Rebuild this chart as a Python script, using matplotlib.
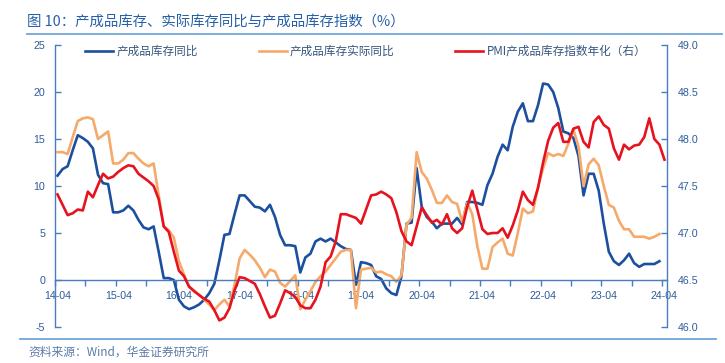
import matplotlib
matplotlib.use('Agg')
import matplotlib.pyplot as plt
import numpy as np
from matplotlib.lines import Line2D
from matplotlib.ticker import FixedLocator, NullFormatter, FixedFormatter

plt.rcParams['font.family'] = ['Liberation Sans', 'Noto Sans CJK SC', 'DejaVu Sans']

# ---------------- data ----------------
title = '图 10：产成品库存、实际库存同比与产成品库存指数（%）'
source = '资料来源：Wind，华金证券研究所'
series_names = ['产成品库存同比', '产成品库存实际同比', 'PMI产成品库存指数年化（右）']
tick_labels = ['14-04', '15-04', '16-04', '17-04', '18-04', '19-04',
               '20-04', '21-04', '22-04', '23-04', '24-04']

# monthly, 2014-04 .. 2024-03
inventory_yoy = [
    11.1, 11.8, 12.1, 13.8, 15.4, 15.1, 14.7, 14.0, 11.2, 10.3,
    10.2, 7.2, 7.2, 7.4, 7.9, 7.4, 6.4, 5.6, 5.4, 5.7,
    3.0, 0.2, 0.2, 0.0, -2.1, -2.8, -3.1, -2.9, -2.6, -2.1,
    -1.4, -0.4, 2.1, 4.8, 4.9, 7.0, 9.0, 9.0, 8.4, 7.8,
    7.7, 7.3, 8.0, 6.7, 4.8, 3.7, 3.7, 3.6, 0.8, 2.4,
    2.8, 4.1, 4.4, 4.1, 4.4, 4.0, 3.6, 3.3, 3.2, -0.5,
    1.9, 1.8, 1.6, 0.4, 0.1, -0.9, -1.4, -1.6, 0.4, 6.0,
    6.1, 11.9, 7.8, 6.7, 6.2, 5.5, 6.0, 6.0, 6.0, 6.6,
    5.9, 8.3, 8.3, 8.2, 8.0, 10.1, 11.3, 13.1, 14.4, 13.8,
    16.3, 17.9, 18.8, 16.9, 16.9, 18.6, 20.9, 20.8, 20.0, 18.3,
    15.8, 15.6, 15.1, 13.2, 9.0, 11.3, 11.3, 9.5, 6.0, 3.0,
    2.0, 1.6, 2.1, 2.8, 1.8, 1.4, 1.7, 1.7, 1.7, 2.0,
]

real_inventory_yoy = [
    13.6, 13.6, 13.4, 15.2, 16.9, 17.2, 17.3, 17.1, 15.0, 15.4,
    15.8, 12.4, 12.4, 12.8, 13.5, 13.5, 12.9, 12.4, 12.1, 12.4,
    9.0, 5.7, 5.3, 4.5, 2.0, 0.6, -0.7, -1.1, -1.6, -2.1,
    -2.6, -3.2, -2.6, -2.1, -2.8, -0.5, 2.3, 3.2, 2.7, 2.1,
    1.3, 0.3, 1.1, 0.9, -0.3, -0.7, -0.1, 0.5, -3.1, -2.1,
    -1.2, -0.2, 0.4, 0.9, 1.6, 2.3, 3.0, 3.2, 3.2, -3.0,
    1.1, 1.2, 1.3, 0.8, 0.9, 0.6, 0.4, -0.2, 0.5, 5.9,
    6.6, 13.6, 11.5, 10.8, 9.6, 8.2, 8.2, 9.0, 8.3, 8.1,
    6.2, 8.2, 7.0, 3.6, 1.2, 1.2, 3.5, 4.0, 4.4, 2.8,
    2.6, 5.0, 7.6, 7.1, 7.3, 9.9, 11.9, 13.5, 13.2, 13.4,
    13.2, 14.5, 16.0, 14.2, 10.0, 12.3, 12.9, 12.2, 10.0, 8.0,
    7.7, 6.3, 5.4, 5.4, 4.6, 4.6, 4.6, 4.4, 4.6, 4.9,
]

# monthly, 2014-04 .. 2024-04 (right axis)
pmi_inventory = [
    47.41, 47.30, 47.19, 47.21, 47.25, 47.24, 47.44, 47.38, 47.51, 47.63,
    47.58, 47.60, 47.65, 47.69, 47.72, 47.71, 47.63, 47.59, 47.55, 47.50,
    47.36, 47.07, 47.01, 46.80, 46.60, 46.54, 46.43, 46.38, 46.34, 46.30,
    46.27, 46.18, 46.07, 46.10, 46.20, 46.39, 46.53, 46.52, 46.49, 46.46,
    46.35, 46.22, 46.10, 46.12, 46.25, 46.39, 46.36, 46.32, 46.23, 46.20,
    46.20, 46.29, 46.43, 46.69, 46.75, 46.91, 47.20, 47.20, 47.18, 47.16,
    47.10, 47.25, 47.40, 47.41, 47.44, 47.41, 47.37, 47.22, 47.02, 46.91,
    46.87, 47.07, 47.27, 47.19, 47.11, 47.14, 47.09, 47.20, 47.05, 47.00,
    47.05, 47.28, 47.45, 47.25, 47.04, 46.99, 47.00, 47.00, 47.05, 46.95,
    47.08, 47.24, 47.44, 47.35, 47.30, 47.48, 47.75, 47.98, 48.12, 48.17,
    47.97, 47.97, 48.11, 48.13, 47.97, 47.91, 48.18, 48.24, 48.15, 48.11,
    47.90, 47.78, 47.94, 47.89, 47.93, 47.94, 48.02, 48.22, 48.00, 47.94, 47.78,
]

left_ticks = [-5, 0, 5, 10, 15, 20, 25]
right_ticks = [46.0, 46.5, 47.0, 47.5, 48.0, 48.5, 49.0]

# ---------------- style ----------------
C_BLUE = '#1D4F9F'
C_ORANGE = '#F5AA6C'
C_RED = '#E6131F'
C_AXIS = '#4A7CC0'
C_TICKTXT = '#2E5C9A'
C_TITLE = '#2760A8'
C_RULE = '#6FA6DA'

W, H = 725, 363
def fx(px):
    return px / W
def fy(py):
    return 1 - py / H

fig = plt.figure(figsize=(W / 100, H / 100), dpi=100)
ax = fig.add_axes([fx(55), fy(327), (667 - 55) / W, (327 - 45) / H])
ax2 = ax.twinx()

xm = np.arange(len(inventory_yoy)) + 0.5
xr = np.arange(len(pmi_inventory)) + 0.5
l1, = ax.plot(xm, inventory_yoy, color=C_BLUE, lw=1.9, solid_joinstyle='round')
l2, = ax.plot(xm, real_inventory_yoy, color=C_ORANGE, lw=1.9, solid_joinstyle='round')
l3, = ax2.plot(xr, pmi_inventory, color=C_RED, lw=1.9, solid_joinstyle='round')

ax.set_xlim(0, 121)
ax.set_ylim(-5, 25)
ax2.set_ylim(46.0, 49.0)

# spines
for s in ['top', 'right']:
    ax.spines[s].set_visible(False)
for s in ['top', 'bottom', 'left']:
    ax2.spines[s].set_visible(False)
ax.spines['bottom'].set_position(('data', 0))
for sp in [ax.spines['left'], ax.spines['bottom'], ax2.spines['right']]:
    sp.set_color(C_AXIS)
    sp.set_linewidth(1.0)

# y ticks
ax.set_yticks(left_ticks)
ax.set_yticklabels([str(v) for v in left_ticks])
ax2.set_yticks(right_ticks)
ax2.set_yticklabels(['%.1f' % v for v in right_ticks])
ax.tick_params(axis='y', direction='in', length=4, width=1, color=C_AXIS,
               labelcolor=C_TICKTXT, labelsize=7.7, pad=7)
ax2.tick_params(axis='y', direction='in', length=4, width=1, color=C_AXIS,
                labelcolor=C_TICKTXT, labelsize=7.7, pad=8)

# x ticks: marks every 6 months, labels centred on April categories
ax.xaxis.set_major_locator(FixedLocator(np.arange(0, 122, 6)))
ax.xaxis.set_major_formatter(NullFormatter())
ax.xaxis.set_minor_locator(FixedLocator(np.arange(0, 121, 12) + 0.5))
ax.xaxis.set_minor_formatter(FixedFormatter(tick_labels))
ax.tick_params(axis='x', which='major', direction='out', length=4, width=1, color=C_AXIS)
ax.tick_params(axis='x', which='minor', length=0, labelcolor=C_TICKTXT,
               labelsize=7.7, pad=8)

# legend
leg = ax2.legend([l1, l2, l3], series_names, loc='upper left',
                 bbox_to_anchor=(fx(85), fy(45)), bbox_transform=fig.transFigure,
                 ncol=3, frameon=False, borderpad=0, borderaxespad=0,
                 handlelength=2.4, handletextpad=0.3, columnspacing=5.2,
                 prop={'family': ['Noto Sans CJK SC', 'DejaVu Sans'], 'size': 8.4})
for t in leg.get_texts():
    t.set_color('#34557F')

# title, rules, source
fig.text(fx(27), fy(21.5), title, fontsize=10.4, color=C_TITLE, va='center', ha='left',
         family=['Noto Sans CJK SC', 'DejaVu Sans'])
fig.add_artist(Line2D([fx(27), fx(722)], [fy(33.5), fy(33.5)], color=C_RULE, lw=1.3))
fig.add_artist(Line2D([fx(20), fx(716)], [fy(338.5), fy(338.5)], color=C_RULE, lw=1.3))
fig.text(fx(28), fy(352), source, fontsize=8.5, color='#5B7BA8', va='center', ha='left',
         family=['Noto Sans CJK SC', 'DejaVu Sans'])

fig.savefig('out.png', dpi=100)
